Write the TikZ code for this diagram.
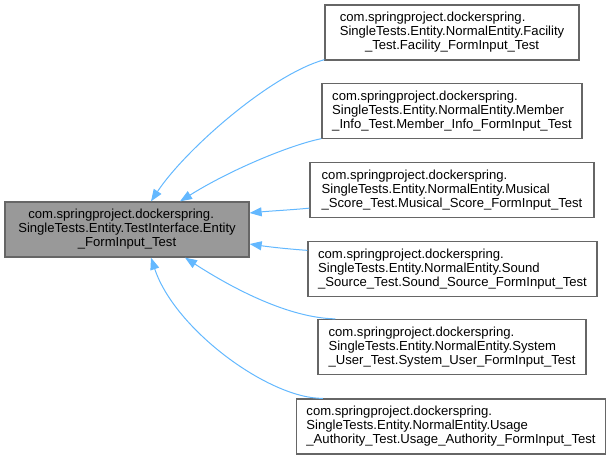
\documentclass[tikz,border=0pt]{standalone}
\usepackage{fontspec}
\setmainfont{Liberation Sans}
\usetikzlibrary{arrows.meta}
\definecolor{edgeblue}{HTML}{63B8FF}
\definecolor{boxborder}{HTML}{666666}
\definecolor{mainfill}{HTML}{999999}
\newcommand\firstleft[3][0pt]{\rlap{\hspace{#1}#2}\phantom{#3}\\#3}
\begin{document}
\begin{tikzpicture}[x=1pt,y=-1pt,
  cls/.style={draw=boxborder, line width=1.3pt, fill=white, inner sep=0pt,
    align=center, font=\fontsize{13.1}{14}\selectfont, minimum height=55pt},
  clsl/.style={cls, align=left},
  base/.style={cls, fill=mainfill},
  inh/.style={draw=edgeblue, line width=1pt, -{Triangle[length=12pt,width=9pt]}}]
\useasboundingbox (0,0) rectangle (613,459);

\node[base, minimum width=244pt] (m) at (127,229.5)
  {\firstleft[10pt]{com.springproject.dockerspring.}{SingleTests.Entity.TestInterface.Entity}\\\_FormInput\_Test};

\node[cls, minimum width=254pt] (f) at (452,32.5)
  {\firstleft{com.springproject.dockerspring.}{SingleTests.Entity.NormalEntity.Facility}\\\_Test.Facility\_FormInput\_Test};
\node[clsl, minimum width=260pt] (mb) at (452,111)
  {com.springproject.dockerspring.\\SingleTests.Entity.NormalEntity.Member\\\_Info\_Test.Member\_Info\_FormInput\_Test};
\node[clsl, minimum width=284pt] (mu) at (452,190)
  {com.springproject.dockerspring.\\SingleTests.Entity.NormalEntity.Musical\\\_Score\_Test.Musical\_Score\_FormInput\_Test};
\node[clsl, minimum width=289pt] (so) at (452.5,269)
  {com.springproject.dockerspring.\\SingleTests.Entity.NormalEntity.Sound\\\_Source\_Test.Sound\_Source\_FormInput\_Test};
\node[clsl, minimum width=268pt] (sy) at (452,347)
  {com.springproject.dockerspring.\\SingleTests.Entity.NormalEntity.System\\\_User\_Test.System\_User\_FormInput\_Test};
\node[clsl, minimum width=309pt] (us) at (451,426.5)
  {com.springproject.dockerspring.\\SingleTests.Entity.NormalEntity.Usage\\\_Authority\_Test.Usage\_Authority\_FormInput\_Test};

\draw[inh] ([yshift=1pt]f.south west) .. controls (270,75) and (185,150) .. ([xshift=24pt]m.north);
\draw[inh] ([yshift=0.5pt]mb.south west) .. controls (290,145) and (230,170) .. ([xshift=53pt]m.north);
\draw[inh] ([yshift=10pt]mu.south west) .. controls (290,210) and (270,211) .. ([yshift=16.5pt]m.east);
\draw[inh] ([yshift=-9.5pt]so.north west) .. controls (288,249) and (270,247) .. ([yshift=-14.5pt]m.east);
\draw[inh] ([xshift=18pt]sy.north west) .. controls (290,318) and (235,290) .. ([xshift=58pt]m.south);
\draw[inh] ([xshift=27pt]us.north west) .. controls (270,399) and (175,330) .. ([xshift=24pt]m.south);
\end{tikzpicture}
\end{document}
